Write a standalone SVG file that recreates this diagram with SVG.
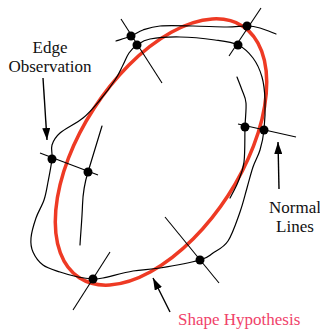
<svg xmlns="http://www.w3.org/2000/svg" width="320" height="330" viewBox="0 0 320 330">
<defs>
<style>
.curve{fill:none;stroke:#000;stroke-width:1.2;stroke-linecap:round;stroke-linejoin:round}
.normal{fill:none;stroke:#000;stroke-width:1.1}
.dot{fill:#000}
.lbl{font-family:"Liberation Serif","Times New Roman",serif;font-size:17px;fill:#111}
.arrow{fill:none;stroke:#000;stroke-width:1.4}
</style>
<marker id="ah" markerUnits="userSpaceOnUse" markerWidth="12" markerHeight="8" refX="12" refY="4" orient="auto">
<path d="M0,0 L12,4 L0,8 Z" fill="#000"/>
</marker>
</defs>
<rect width="320" height="330" fill="#fff"/>
<g id="shape-hypothesis">
<ellipse cx="161" cy="152" rx="150" ry="80" transform="rotate(-57 161 152)" fill="none" stroke="#ee3a24" stroke-width="3.5"/>
</g>
<g id="edge-contours">
<path class="curve" d="M137,45 C140.5,42.67 142.83,40.33 150,39 S169.17,36.83 180,37 S205.33,38.67 215,40 S231.67,42 238,45 S249,52.67 253,58 S260,70 262,77 S264.67,91.17 265,100 S264.83,121.67 264,130 S261.83,143.83 260,150 S255.17,160.67 253,167 S249.17,180.5 247,188 S243.17,203.17 240,212 S232.5,234.17 228,241 S217.67,249.83 213,253 S208.83,257.5 200,260 S171.17,266.17 160,268 S142.5,269.33 133,271 S109.67,276.67 103,278 S97.17,279.17 93,279 S83.5,278.17 78,277 S65.83,274 60,272 S47.5,268.33 43,265 S35,256.5 33,252 S30.5,243.67 31,238 S33.83,224.33 36,218 S42,206 44,200 S46.67,188.83 48,182 S51.33,165.17 52,159 S50.67,149.33 52,145 S54.83,137.5 60,133 S76.33,123.5 83,118 S94.67,106.33 100,100 S111.17,85.83 115,80 S120.67,69.5 123,65 S126.67,56.33 129,53 S133.5,47.33 137,45 Z"/>
<path class="curve" d="M116,41 C118.5,40.17 126.5,37.83 131,36 S138.17,31.67 143,30 S151.67,26.67 160,26 S181.83,25.83 193,26 S218,27 227,27 S241.5,25.83 247,26 S255.17,26.67 260,28 S273.33,33 276,34"/>
<path class="curve" d="M237,77 C237.83,79.17 240.5,85.67 242,90 S245.5,96.83 246,103 S245.33,117.17 245,127 S245.17,152.83 244,162 S240.33,176 238,182 S231.33,195.33 230,198"/>
<path class="curve" d="M102,126 L88,172 C85.5,180 83,190 82.5,205 S80.5,235 80,245"/>
</g>
<g id="normal-lines">
<line class="normal" x1="121" y1="19" x2="162" y2="83"/>
<line class="normal" x1="261" y1="8" x2="229" y2="56"/>
<line class="normal" x1="238" y1="124" x2="296" y2="137"/>
<line class="normal" x1="40" y1="153" x2="98" y2="175"/>
<line class="normal" x1="165" y1="217" x2="219" y2="283"/>
<line class="normal" x1="110" y1="252" x2="73" y2="310"/>
</g>
<g id="edge-observations">
<circle class="dot" cx="131" cy="36" r="4.5"/>
<circle class="dot" cx="137" cy="45" r="4.5"/>
<circle class="dot" cx="247" cy="26" r="4.5"/>
<circle class="dot" cx="238" cy="45" r="4.5"/>
<circle class="dot" cx="245" cy="127" r="4.5"/>
<circle class="dot" cx="264" cy="130" r="4.5"/>
<circle class="dot" cx="52" cy="159" r="4.5"/>
<circle class="dot" cx="88" cy="172" r="4.5"/>
<circle class="dot" cx="200" cy="260" r="4.5"/>
<circle class="dot" cx="93" cy="279" r="4.5"/>
</g>
<g id="label-edge-observation">
<text class="lbl" x="50" y="53" text-anchor="middle">Edge</text>
<text class="lbl" x="50" y="72" text-anchor="middle">Observation</text>
</g>
<g id="label-normal-lines">
<text class="lbl" x="295" y="213" text-anchor="middle">Normal</text>
<text class="lbl" x="295" y="232" text-anchor="middle">Lines</text>
</g>
<g id="label-shape-hypothesis">
<text class="lbl" x="178" y="325" style="fill:#f0426a">Shape Hypothesis</text>
</g>
<g id="connectors">
<line class="arrow" x1="43" y1="78" x2="47" y2="140" marker-end="url(#ah)"/>
<line class="arrow" x1="279" y1="189" x2="278" y2="142" marker-end="url(#ah)"/>
<line class="arrow" x1="170" y1="312" x2="153" y2="278" marker-end="url(#ah)"/>
</g>
</svg>
